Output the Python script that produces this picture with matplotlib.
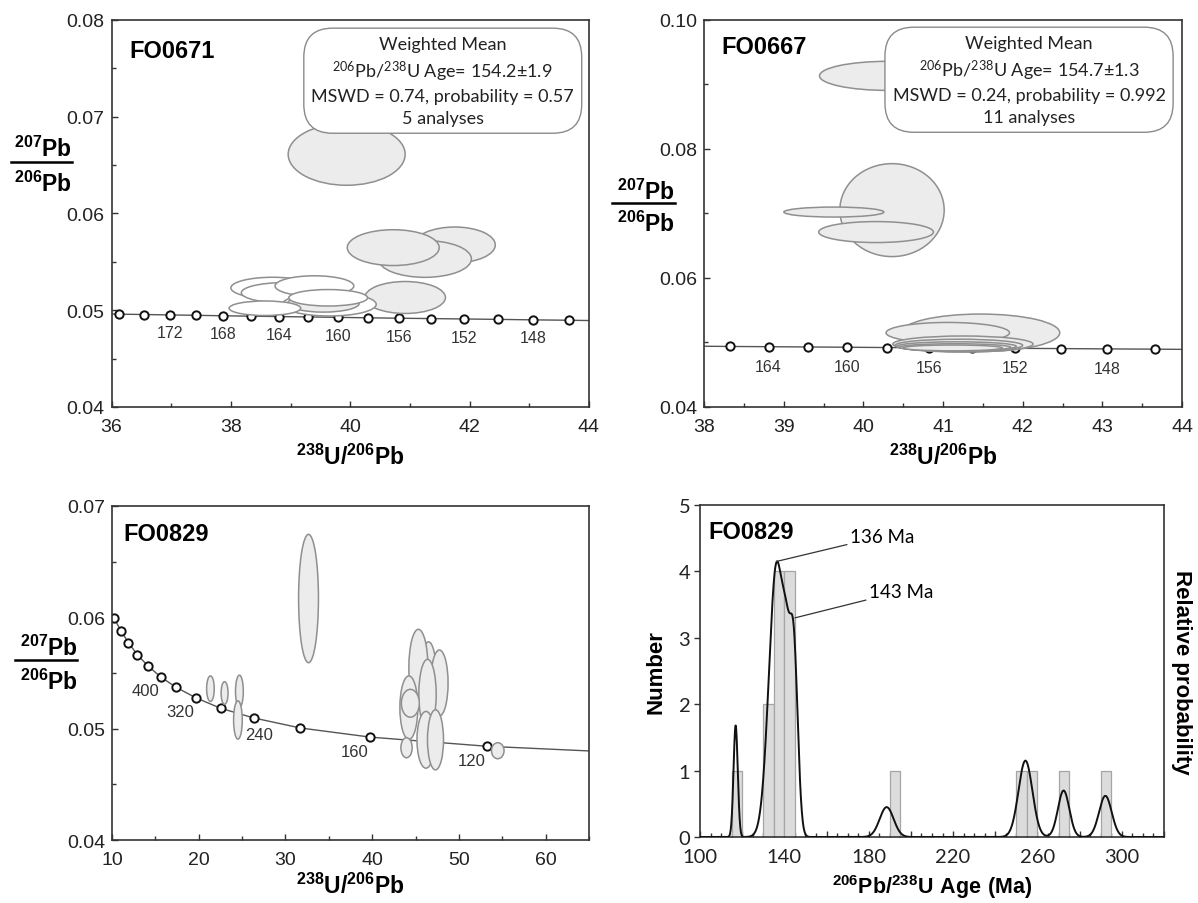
import matplotlib
matplotlib.use("Agg")
import matplotlib.pyplot as plt
import numpy as np
from matplotlib.patches import Ellipse
from matplotlib.lines import Line2D
from matplotlib.ticker import MultipleLocator, FormatStrFormatter, FuncFormatter

plt.rcParams["font.family"] = ["Liberation Sans", "DejaVu Sans"]
plt.rcParams["mathtext.fontset"] = "custom"
plt.rcParams["mathtext.rm"] = "Lato"
plt.rcParams["mathtext.bf"] = "Liberation Sans:bold"

# ---------------- FO0671 (top left) ----------------
tl_conc_age = [176, 174, 172, 170, 168, 166, 164, 162, 160, 158, 156, 154, 152, 150, 148, 146]
tl_conc_x = [36.13, 36.55, 36.98, 37.42, 37.87, 38.33, 38.81, 39.30, 39.79, 40.30,
             40.82, 41.36, 41.91, 42.48, 43.06, 43.66]
tl_conc_y = [0.04959, 0.04955, 0.04951, 0.04947, 0.04942, 0.04938, 0.04934, 0.04930,
             0.04926, 0.04921, 0.04917, 0.04913, 0.04909, 0.04905, 0.04900, 0.04896]
tl_line_x = [36.0] + tl_conc_x + [44.0]
tl_line_y = [0.04960] + tl_conc_y + [0.04893]
tl_labels = [172, 168, 164, 160, 156, 152, 148]
# ellipses in drawing order: centre x, centre y, width, height, fill
tl_ell_x = [39.94, 41.75, 41.25, 40.72, 40.92, 38.70, 38.90, 39.40, 39.65, 39.55, 39.63, 38.57]
tl_ell_y = [0.0661, 0.05674, 0.05529, 0.05646, 0.05131, 0.0523, 0.0518, 0.0525, 0.0506,
            0.0507, 0.05128, 0.0502]
tl_ell_w = [1.96, 1.36, 1.56, 1.54, 1.35, 1.40, 1.45, 1.32, 1.57, 1.20, 1.32, 1.20]
tl_ell_h = [0.0064, 0.0037, 0.0038, 0.0037, 0.0033, 0.0022, 0.0021, 0.0021, 0.0024,
            0.0018, 0.0017, 0.0015]
tl_ell_fill = ["g", "g", "g", "g", "g", "w", "w", "w", "w", "g", "w", "w"]
tl_box = ["Weighted Mean",
          r"$\mathrm{^{206}}$Pb/$\mathrm{^{238}}$U Age= 154.2±1.9",
          "MSWD = 0.74, probability = 0.57",
          "5 analyses"]

# ---------------- FO0667 (top right) ----------------
tr_conc_age = [166, 164, 162, 160, 158, 156, 154, 152, 150, 148, 146]
tr_conc_x = [38.33, 38.81, 39.30, 39.79, 40.30, 40.82, 41.36, 41.91, 42.48, 43.06, 43.66]
tr_conc_y = [0.04938, 0.04934, 0.04930, 0.04926, 0.04921, 0.04917, 0.04913, 0.04909,
             0.04905, 0.04900, 0.04896]
tr_line_x = [38.0] + tr_conc_x + [44.0]
tr_line_y = [0.04941] + tr_conc_y + [0.04893]
tr_labels = [164, 160, 156, 152, 148]
tr_ell_x = [40.30, 40.36, 39.63, 40.16, 41.47, 41.06, 41.25, 41.20, 41.17, 41.15, 41.12]
tr_ell_y = [0.0913, 0.0705, 0.0702, 0.0671, 0.0515, 0.0515, 0.04975, 0.04955, 0.0494,
            0.04925, 0.04915]
tr_ell_w = [1.70, 1.31, 1.255, 1.44, 1.99, 1.55, 1.76, 1.60, 1.50, 1.40, 1.25]
tr_ell_h = [0.0045, 0.0144, 0.00155, 0.00325, 0.0058, 0.0032, 0.0025, 0.0019, 0.0014,
            0.0011, 0.0009]
tr_box = ["Weighted Mean",
          r"$\mathrm{^{206}}$Pb/$\mathrm{^{238}}$U Age= 154.7±1.3",
          "MSWD = 0.24, probability = 0.992",
          "11 analyses"]

# ---------------- FO0829 concordia (bottom left) ----------------
bl_conc_age = [600, 560, 520, 480, 440, 400, 360, 320, 280, 240, 200, 160, 120]
bl_conc_x = [10.25, 11.02, 11.90, 12.94, 14.16, 15.62, 17.41, 19.65, 22.53, 26.36,
             31.73, 39.79, 53.22]
bl_conc_y = [0.05990, 0.05880, 0.05772, 0.05662, 0.05563, 0.05464, 0.05371, 0.05278,
             0.05183, 0.05096, 0.05006, 0.04924, 0.04842]
bl_line_x = [10.0] + bl_conc_x + [65.0]
bl_line_y = [0.06020] + bl_conc_y + [0.04800]
bl_labels = [400, 320, 240, 160, 120]
bl_ell_x = [32.66, 21.35, 22.98, 24.69, 24.52, 46.50, 45.33, 47.75, 44.23, 46.38,
            46.20, 47.30, 44.40, 43.96, 54.48]
bl_ell_y = [0.06169, 0.05359, 0.0532, 0.05335, 0.05078, 0.0548, 0.05548, 0.0541,
            0.05189, 0.05308, 0.0490, 0.0490, 0.05228, 0.04829, 0.04802]
bl_ell_w = [2.29, 0.88, 0.80, 0.90, 1.00, 1.80, 2.20, 2.00, 2.07, 2.00, 2.07, 1.85,
            2.07, 1.30, 1.45]
bl_ell_h = [0.01153, 0.0023, 0.00204, 0.0029, 0.00344, 0.0060, 0.00689, 0.00593,
            0.0057, 0.0063, 0.0051, 0.0054, 0.0025, 0.0018, 0.00144]

# ---------------- FO0829 histogram (bottom right) ----------------
bin_left = [115, 130, 135, 140, 190, 250, 255, 270, 290]
bin_count = [1, 2, 4, 4, 1, 1, 1, 1, 1]
bin_width = 5
# probability curve components: age, sigma, height
pk_age = [116.9, 136.3, 141.0, 144.5, 188.5, 254.3, 272.4, 292.2]
pk_sigma = [1.0, 3.6, 1.8, 1.9, 3.3, 3.3, 2.7, 3.0]
pk_height = [1.68, 4.10, 1.30, 2.65, 0.45, 1.15, 0.70, 0.62]

W, H = 1198, 904
EDGE = "#8f8f8f"
GRAY = "#ececec"
AX_COL = "#333333"

fig = plt.figure(figsize=(W / 100, H / 100), dpi=100)


def px_rect(left, top, right, bottom):
    return [left / W, 1 - bottom / H, (right - left) / W, (bottom - top) / H]


def style_axes(ax, labelsize=14):
    for s in ax.spines.values():
        s.set_color(AX_COL)
        s.set_linewidth(1.2)
    ax.tick_params(which="both", direction="in", colors=AX_COL, labelsize=labelsize,
                   labelcolor="#222222")
    ax.tick_params(axis="x", pad=8)
    ax.tick_params(axis="y", pad=5)
    ax.tick_params(which="major", length=4, width=1)
    ax.tick_params(which="minor", length=3, width=1)


def draw_concordia(ax, lx, ly, cx, cy):
    ax.plot(lx, ly, color="#555555", lw=1.0, zorder=2)
    ax.plot(cx, cy, "o", ms=6, mfc="white", mec="#111111", mew=1.4, zorder=2.5,
            linestyle="none")


def draw_ellipses(ax, xs, ys, ws, hs, fills):
    for x, y, w, h, f in zip(xs, ys, ws, hs, fills):
        ax.add_patch(Ellipse((x, y), w, h, fc=GRAY if f == "g" else "white",
                             ec=EDGE, lw=1.1, zorder=3))


def age_labels(ax, ages, conc_age, cx, cy, offsets, size=11.5):
    for a in ages:
        i = conc_age.index(a)
        dx, dy = offsets.get(a, offsets["default"])
        ax.annotate(str(a), (cx[i], cy[i]), xytext=(dx, dy), textcoords="offset points",
                    ha="center", va="center", fontsize=size, color="#333333", zorder=4)


def frac_label(x_c, y_top, y_line, y_bot, x0, x1):
    fig.text(x_c / W, 1 - y_top / H, r"$\mathbf{^{207}Pb}$", ha="center", va="center",
             fontsize=16.5)
    fig.add_artist(Line2D([x0 / W, x1 / W], [1 - y_line / H] * 2, color="black", lw=1.8))
    fig.text(x_c / W, 1 - y_bot / H, r"$\mathbf{^{206}Pb}$", ha="center", va="center",
             fontsize=16.5)


def weighted_box(ax, x, y, lines):
    ax.text(x, y, "\n".join(lines), ha="center", va="center", multialignment="center",
            fontsize=13, family="Lato", color="#222222", linespacing=1.4, zorder=6,
            bbox=dict(boxstyle="round,pad=0.42,rounding_size=1.6", fc="white",
                      ec="#8a8a8a", lw=1.0))


xlab = r"$\mathbf{^{238}U/^{206}Pb}$"

# ---- top left ----
ax1 = fig.add_axes(px_rect(111.5, 20.7, 589, 408))
draw_concordia(ax1, tl_line_x, tl_line_y, tl_conc_x, tl_conc_y)
draw_ellipses(ax1, tl_ell_x, tl_ell_y, tl_ell_w, tl_ell_h, tl_ell_fill)
age_labels(ax1, tl_labels, tl_conc_age, tl_conc_x, tl_conc_y, {"default": (0, -13)})
ax1.set_xlim(36, 44)
ax1.set_ylim(0.04, 0.08)
ax1.xaxis.set_major_locator(MultipleLocator(2))
ax1.xaxis.set_minor_locator(MultipleLocator(1))
ax1.yaxis.set_major_locator(MultipleLocator(0.01))
ax1.yaxis.set_minor_locator(MultipleLocator(0.005))
ax1.yaxis.set_major_formatter(FormatStrFormatter("%.2f"))
style_axes(ax1)
ax1.set_xlabel(xlab, fontsize=16.5, labelpad=6)
ax1.text(36.3, 0.0768, "FO0671", fontsize=17, fontweight="bold", va="center")
weighted_box(ax1, 41.55, 0.0737, tl_box)
frac_label(43, 149, 163, 184, 11, 72)

# ---- top right ----
ax2 = fig.add_axes(px_rect(704, 20.7, 1182, 408))
draw_concordia(ax2, tr_line_x, tr_line_y, tr_conc_x, tr_conc_y)
draw_ellipses(ax2, tr_ell_x, tr_ell_y, tr_ell_w, tr_ell_h, ["g"] * len(tr_ell_x))
age_labels(ax2, tr_labels, tr_conc_age, tr_conc_x, tr_conc_y, {"default": (0, -14)})
ax2.set_xlim(38, 44)
ax2.set_ylim(0.04, 0.10)
ax2.xaxis.set_major_locator(MultipleLocator(1))
ax2.xaxis.set_minor_locator(MultipleLocator(0.5))
ax2.yaxis.set_major_locator(MultipleLocator(0.02))
ax2.yaxis.set_minor_locator(MultipleLocator(0.01))
ax2.yaxis.set_major_formatter(FormatStrFormatter("%.2f"))
style_axes(ax2)
ax2.set_xlabel(xlab, fontsize=16.5, labelpad=6)
ax2.text(38.22, 0.0958, "FO0667", fontsize=17, fontweight="bold", va="center")
weighted_box(ax2, 42.08, 0.0907, tr_box)
frac_label(646, 192, 204, 224, 612, 675)

# ---- bottom left ----
ax3 = fig.add_axes(px_rect(112, 507, 589, 841))
draw_concordia(ax3, bl_line_x, bl_line_y, bl_conc_x, bl_conc_y)
draw_ellipses(ax3, bl_ell_x, bl_ell_y, bl_ell_w, bl_ell_h, ["g"] * len(bl_ell_x))
age_labels(ax3, bl_labels, bl_conc_age, bl_conc_x, bl_conc_y,
           {"default": (-11, -10), 240: (4, -12)}, size=12)
ax3.set_xlim(10, 65)
ax3.set_ylim(0.04, 0.07)
ax3.xaxis.set_major_locator(MultipleLocator(10))
ax3.xaxis.set_minor_locator(MultipleLocator(5))
ax3.yaxis.set_major_locator(MultipleLocator(0.01))
ax3.yaxis.set_minor_locator(MultipleLocator(0.005))
ax3.yaxis.set_major_formatter(FormatStrFormatter("%.2f"))
style_axes(ax3)
ax3.set_xlabel(xlab, fontsize=16.5, labelpad=3)
ax3.text(11.3, 0.0675, "FO0829", fontsize=17, fontweight="bold", va="center")
frac_label(49, 648, 661, 682, 15, 77)

# ---- bottom right ----
ax4 = fig.add_axes(px_rect(700, 506, 1164, 838))
ax4.bar(bin_left, bin_count, width=bin_width, align="edge", color="#dcdcdc",
        edgecolor="#a5a5a5", lw=0.9, zorder=2)
ages = np.linspace(100, 320, 1500)
prob = np.zeros_like(ages)
for a, s, h in zip(pk_age, pk_sigma, pk_height):
    prob += h * np.exp(-0.5 * ((ages - a) / s) ** 2)
ax4.plot(ages, prob, color="#111111", lw=1.4, zorder=3)
ax4.set_xlim(100, 320)
ax4.set_ylim(0, 5)
ax4.xaxis.set_major_locator(MultipleLocator(20))
ax4.xaxis.set_minor_locator(MultipleLocator(5))
ax4.xaxis.set_major_formatter(FuncFormatter(lambda v, p: f"{v:.0f}" if (v - 100) % 40 == 0 else ""))
ax4.yaxis.set_major_locator(MultipleLocator(1))
style_axes(ax4, labelsize=14.5)
ax4.tick_params(axis="y", direction="out", pad=3)
for lab in ax4.get_xticklabels() + ax4.get_yticklabels():
    lab.set_family("Lato")
ax4.set_xlabel(r"$\mathbf{^{206}Pb/^{238}U\ Age\ (Ma)}$", fontsize=15.5, labelpad=5)
ax4.set_ylabel("Number", fontsize=16, fontweight="bold", labelpad=9)
ax4r = ax4.twinx()
ax4r.set_yticks([])
ax4r.set_ylabel("Relative probability", fontsize=16, fontweight="bold", rotation=-90,
                labelpad=20)
for s in ax4r.spines.values():
    s.set_visible(False)
ax4.text(104, 4.6, "FO0829", fontsize=17, fontweight="bold", va="center")
ax4.annotate("136 Ma", xy=(136.3, 4.15), xytext=(171, 4.53), fontsize=13.5, family="Lato",
             va="center", arrowprops=dict(arrowstyle="-", lw=0.9, color="#333333",
                                          shrinkA=0, shrinkB=0))
ax4.annotate("143 Ma", xy=(145, 3.3), xytext=(180, 3.70), fontsize=13.5, family="Lato",
             va="center", arrowprops=dict(arrowstyle="-", lw=0.9, color="#333333",
                                          shrinkA=0, shrinkB=0))

fig.savefig("out.png", dpi=100)
